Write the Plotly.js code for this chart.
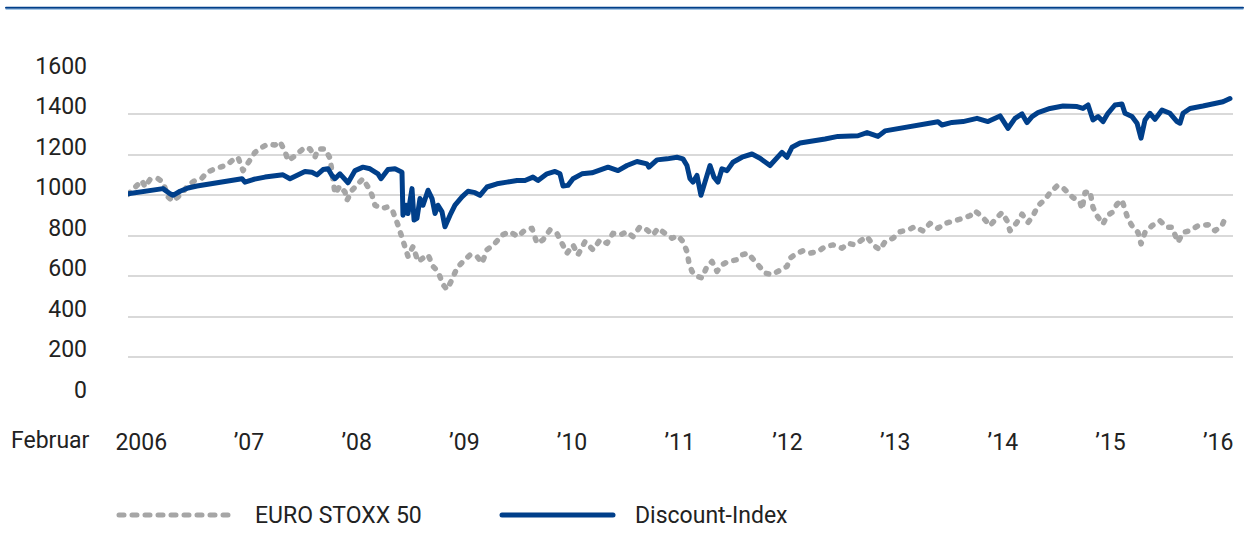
<!DOCTYPE html>
<html>
<head>
<meta charset="utf-8">
<script src="https://cdn.plot.ly/plotly-3.0.1.min.js"></script>
<style>
  html, body { margin: 0; padding: 0; background: #fff; }
  #chart { width: 1252px; height: 553px; }
  .scatterlayer .js-line, .shapelayer path { stroke-linecap: round; stroke-linejoin: round; }
</style>
</head>
<body>
<div id="chart"></div>
<script>
// ---- data (x = decimal years) ----
const stoxxDates = [
  2005.960, 2006.025, 2006.090, 2006.118, 2006.164, 2006.239, 2006.285, 2006.331, 2006.378, 2006.424,
  2006.471, 2006.517, 2006.582, 2006.647, 2006.694, 2006.768, 2006.833, 2006.879, 2006.926, 2006.981,
  2007.028, 2007.074, 2007.139, 2007.204, 2007.260, 2007.325, 2007.371, 2007.418, 2007.446, 2007.492,
  2007.538, 2007.603, 2007.650, 2007.696, 2007.724, 2007.789, 2007.836, 2007.863, 2007.882, 2007.928,
  2007.975, 2007.993, 2008.040, 2008.096, 2008.142, 2008.188, 2008.226, 2008.253, 2008.318, 2008.374,
  2008.421, 2008.467, 2008.504, 2008.532, 2008.560, 2008.606, 2008.653, 2008.699, 2008.746, 2008.792,
  2008.838, 2008.885, 2008.922, 2008.968, 2009.015, 2009.070, 2009.136, 2009.200, 2009.247, 2009.293,
  2009.368, 2009.433, 2009.507, 2009.581, 2009.646, 2009.711, 2009.758, 2009.813, 2009.878, 2009.943,
  2009.990, 2010.036, 2010.092, 2010.138, 2010.203, 2010.278, 2010.343, 2010.408, 2010.463, 2010.528,
  2010.593, 2010.649, 2010.714, 2010.779, 2010.835, 2010.881, 2010.946, 2011.011, 2011.067, 2011.113,
  2011.150, 2011.169, 2011.197, 2011.243, 2011.290, 2011.336, 2011.382, 2011.429, 2011.475, 2011.531,
  2011.615, 2011.661, 2011.717, 2011.782, 2011.828, 2011.875, 2011.940, 2012.014, 2012.079, 2012.107,
  2012.172, 2012.227, 2012.292, 2012.367, 2012.432, 2012.506, 2012.590, 2012.645, 2012.710, 2012.775,
  2012.822, 2012.877, 2012.942, 2012.989, 2013.063, 2013.128, 2013.202, 2013.267, 2013.342, 2013.407,
  2013.481, 2013.546, 2013.620, 2013.685, 2013.778, 2013.825, 2013.899, 2013.964, 2014.029, 2014.075,
  2014.122, 2014.149, 2014.214, 2014.261, 2014.317, 2014.363, 2014.409, 2014.475, 2014.521, 2014.586,
  2014.632, 2014.679, 2014.734, 2014.799, 2014.818, 2014.846, 2014.892, 2014.920, 2014.957, 2015.013,
  2015.050, 2015.096, 2015.143, 2015.189, 2015.217, 2015.245, 2015.291, 2015.338, 2015.366, 2015.403,
  2015.468, 2015.542, 2015.607, 2015.654, 2015.709, 2015.756, 2015.821, 2015.895, 2015.988, 2016.053,
  2016.118, 2016.155
];
const stoxxValues = [
  1005, 1041, 1073, 1041, 1078, 1082, 1065, 992, 971, 992,
  1016, 1049, 1073, 1085, 1114, 1131, 1144, 1150, 1171, 1188,
  1122, 1163, 1212, 1237, 1253, 1248, 1265, 1216, 1171, 1188,
  1212, 1237, 1229, 1188, 1229, 1229, 1183, 1057, 1008, 1046,
  1016, 975, 1025, 1057, 1082, 1041, 1000, 951, 935, 943,
  918, 853, 788, 739, 698, 747, 673, 690, 706, 649,
  624, 559, 535, 584, 641, 673, 706, 698, 665, 731,
  763, 804, 820, 796, 829, 837, 763, 780, 829, 812,
  755, 714, 755, 706, 771, 731, 780, 763, 812, 804,
  820, 796, 845, 829, 804, 837, 812, 788, 800, 771,
  722, 665, 624, 600, 592, 649, 673, 624, 657, 673,
  682, 706, 714, 673, 649, 616, 608, 633, 649, 690,
  714, 726, 714, 722, 747, 755, 739, 763, 755, 780,
  796, 755, 731, 771, 788, 820, 829, 845, 824, 861,
  837, 861, 870, 882, 899, 923, 890, 850, 890, 915,
  874, 825, 866, 907, 866, 899, 948, 980, 1013, 1046,
  1042, 1013, 989, 967, 931, 1013, 1021, 940, 899, 858,
  899, 915, 956, 977, 923, 882, 842, 817, 760, 817,
  850, 874, 842, 842, 768, 817, 825, 850, 855, 825,
  850, 899
];
const discountDates = [
  2005.960, 2006.025, 2006.118, 2006.211, 2006.285, 2006.350, 2006.378, 2006.443, 2006.517, 2006.601,
  2006.694, 2006.786, 2006.889, 2007.018, 2007.046, 2007.121, 2007.232, 2007.353, 2007.399, 2007.464,
  2007.538, 2007.603, 2007.668, 2007.715, 2007.771, 2007.817, 2007.854, 2007.882, 2007.928, 2007.975,
  2008.003, 2008.068, 2008.142, 2008.207, 2008.281, 2008.309, 2008.374, 2008.439, 2008.486, 2008.504,
  2008.513, 2008.541, 2008.560, 2008.597, 2008.616, 2008.643, 2008.671, 2008.699, 2008.746, 2008.783,
  2008.811, 2008.838, 2008.876, 2008.903, 2008.950, 2008.996, 2009.061, 2009.117, 2009.182, 2009.228,
  2009.293, 2009.386, 2009.479, 2009.572, 2009.646, 2009.720, 2009.767, 2009.850, 2009.925, 2009.971,
  2009.999, 2010.045, 2010.092, 2010.175, 2010.268, 2010.343, 2010.417, 2010.510, 2010.593, 2010.686,
  2010.779, 2010.797, 2010.872, 2010.965, 2011.057, 2011.113, 2011.150, 2011.178, 2011.206, 2011.243,
  2011.280, 2011.317, 2011.364, 2011.401, 2011.438, 2011.475, 2011.522, 2011.577, 2011.661, 2011.754,
  2011.828, 2011.921, 2011.967, 2012.032, 2012.079, 2012.125, 2012.200, 2012.311, 2012.432, 2012.552,
  2012.645, 2012.738, 2012.822, 2012.924, 2012.989, 2013.110, 2013.240, 2013.360, 2013.481, 2013.518,
  2013.611, 2013.713, 2013.843, 2013.945, 2014.057, 2014.131, 2014.196, 2014.261, 2014.307, 2014.354,
  2014.409, 2014.521, 2014.642, 2014.772, 2014.827, 2014.874, 2014.920, 2014.967, 2015.013, 2015.059,
  2015.124, 2015.189, 2015.217, 2015.282, 2015.329, 2015.366, 2015.403, 2015.449, 2015.496, 2015.561,
  2015.635, 2015.700, 2015.728, 2015.756, 2015.821, 2015.941, 2016.071, 2016.127, 2016.192
];
const discountValues = [
  1008, 1013, 1020, 1028, 1033, 1008, 1000, 1020, 1036, 1046,
  1055, 1065, 1072, 1082, 1065, 1078, 1090, 1101, 1101, 1082,
  1098, 1118, 1114, 1101, 1127, 1131, 1098, 1082, 1106, 1082,
  1062, 1122, 1139, 1131, 1106, 1082, 1127, 1131, 1122, 1114,
  902, 951, 910, 1033, 878, 886, 984, 951, 1025, 984,
  910, 951, 918, 845, 902, 951, 992, 1020, 1013, 1000,
  1041, 1057, 1065, 1073, 1073, 1090, 1073, 1106, 1118, 1106,
  1046, 1049, 1082, 1106, 1111, 1127, 1139, 1122, 1147, 1167,
  1155, 1139, 1175, 1180, 1188, 1180, 1147, 1082, 1065, 1098,
  1000, 1065, 1147, 1090, 1065, 1131, 1122, 1163, 1188, 1204,
  1183, 1147, 1172, 1212, 1188, 1237, 1258, 1265, 1278, 1291,
  1291, 1294, 1310, 1291, 1318, 1330, 1343, 1351, 1363, 1347,
  1360, 1364, 1380, 1364, 1392, 1331, 1380, 1402, 1359, 1389,
  1408, 1429, 1441, 1438, 1429, 1446, 1372, 1389, 1364, 1405,
  1446, 1451, 1405, 1389, 1356, 1282, 1372, 1405, 1375, 1421,
  1405, 1364, 1356, 1405, 1429, 1441, 1454, 1462, 1478
];
const yTicks = [0, 200, 400, 600, 800, 1000, 1200, 1400, 1600];
const xTickYears = [2006.083, 2007.083, 2008.083, 2009.083, 2010.083, 2011.083, 2012.083, 2013.083, 2014.083, 2015.083, 2016.083];
const xTickLabels = ['2006', '\u201907', '\u201908', '\u201909', '\u201910', '\u201911', '\u201912', '\u201913', '\u201914', '\u201915', '\u201916'];
const seriesNames = ['EURO STOXX 50', 'Discount-Index'];

// ---- styling ----
const BLUE = '#003f8a';
const GRAY = '#a6a6a6';
const TXT = '#222222';
const FONT = 'Roboto, "Liberation Sans", Arial, sans-serif';

const traces = [
  { x: stoxxDates, y: stoxxValues, name: seriesNames[0], type: 'scatter', mode: 'lines',
    line: { color: GRAY, width: 5.5, dash: '2.5px,8.5px' }, hoverinfo: 'skip' },
  { x: discountDates, y: discountValues, name: seriesNames[1], type: 'scatter', mode: 'lines',
    line: { color: BLUE, width: 5 }, hoverinfo: 'skip' }
];

// plot area in pixels: x 128..1233, y 73..398 (value 0 at 398, 1600 at 74)
const L = 128, R = 1233, T = 73, B = 398;
const px = v => (v - L) / (R - L);
const py = v => (B - v) / (B - T);

const layout = {
  width: 1252, height: 553,
  margin: { l: L, r: 1252 - R, t: T, b: 553 - B, pad: 0 },
  paper_bgcolor: '#ffffff', plot_bgcolor: '#ffffff',
  showlegend: false,
  font: { family: FONT, size: 23, color: TXT },
  xaxis: {
    range: [2005.96, 2016.22], showgrid: false, zeroline: false, showline: false, ticks: '',
    tickmode: 'array', tickvals: xTickYears, ticktext: xTickLabels,
    tickfont: { family: FONT, size: 23, color: TXT }, ticklabelstandoff: 28
  },
  yaxis: {
    range: [-1, 1604], tickmode: 'array', tickvals: yTicks, ticks: '',
    showgrid: true, gridcolor: '#d9d9d9', gridwidth: 2, zeroline: false, showline: false,
    tickfont: { family: FONT, size: 23, color: TXT }, ticklabelstandoff: 40, ticklabelshift: -8
  },
  shapes: [
    { type: 'line', xref: 'paper', yref: 'paper', x0: px(6), x1: px(1243), y0: py(7.8), y1: py(7.8), line: { color: BLUE, width: 2 } },
    { type: 'line', xref: 'paper', yref: 'paper', x0: px(6), x1: px(1243), y0: py(9.4), y1: py(9.4), line: { color: '#9cc2e5', width: 1 } },
    { type: 'line', xref: 'paper', yref: 'paper', x0: px(119), x1: px(230), y0: py(515), y1: py(515), line: { color: GRAY, width: 5, dash: '5px,8px' } },
    { type: 'line', xref: 'paper', yref: 'paper', x0: px(502), x1: px(613), y0: py(515), y1: py(515), line: { color: BLUE, width: 5 } }
  ],
  annotations: [
    { text: 'Februar', xref: 'paper', yref: 'paper', x: px(9), y: py(440), xanchor: 'left', yanchor: 'middle', showarrow: false, font: { family: FONT, size: 23, color: TXT } },
    { text: seriesNames[0], xref: 'paper', yref: 'paper', x: px(253), y: py(515), xanchor: 'left', yanchor: 'middle', showarrow: false, font: { family: FONT, size: 23, color: TXT } },
    { text: seriesNames[1], xref: 'paper', yref: 'paper', x: px(633), y: py(515), xanchor: 'left', yanchor: 'middle', showarrow: false, font: { family: FONT, size: 23, color: TXT } }
  ]
};

Plotly.newPlot('chart', traces, layout, { displayModeBar: false, staticPlot: true });
</script>
</body>
</html>
